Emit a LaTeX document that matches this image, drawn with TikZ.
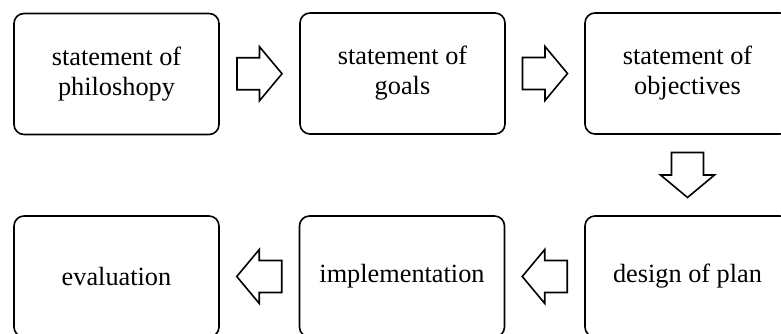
\documentclass[tikz,border=0pt]{standalone}
\usepackage{fontspec}
\setmainfont{Liberation Serif}
\usetikzlibrary{calc}
\begin{document}
\begin{tikzpicture}[x=1pt,y=1pt,
  stage/.style={draw, line width=1.6pt, rounded corners=10pt,
    minimum width=205pt, minimum height=121pt, align=center,
    inner sep=0pt, font=\fontsize{26.3}{30}\selectfont},
  blockarrow/.style={draw, line width=1.6pt, fill=white, line join=miter},
  arrowshape/.style={insert path={
    (-22.5,-16) -- (0,-16) -- (0,-27) -- (22.5,0) -- (0,27) -- (0,16) -- (-22.5,16) -- cycle}}
]
\useasboundingbox (0,0) rectangle (781,334);

% process stages
\node[stage] (phil) at (116.5,260) {statement of\\philoshopy};
\node[stage] (goals) at (402.5,260.5) {statement of\\goals};
\node[stage] (obj) at (687.5,260.5) {statement of\\objectives};
\node[stage] (plan) at (687.5,57.5) {design of plan};
\node[stage] (impl) at (402,57.5) {implementation};
\node[stage] (eval) at (116.5,57.5) {evaluation};

% hollow block arrows halfway between consecutive stages
\coordinate (a1) at ($(phil.east)!0.5!(goals.west)$);
\coordinate (a2) at ($(goals.east)!0.5!(obj.west)$);
\coordinate (a3) at ($(obj.south)!0.5!(plan.north)$);
\coordinate (a4) at ($(plan.west)!0.5!(impl.east)$);
\coordinate (a5) at ($(impl.west)!0.5!(eval.east)$);

\draw[blockarrow, shift={(a1)}, arrowshape];
\draw[blockarrow, shift={(a2)}, arrowshape];
\draw[blockarrow, shift={(a3)}, rotate=-90, arrowshape];
\draw[blockarrow, shift={(a4)}, rotate=180, arrowshape];
\draw[blockarrow, shift={(a5)}, rotate=180, arrowshape];
\end{tikzpicture}
\end{document}
